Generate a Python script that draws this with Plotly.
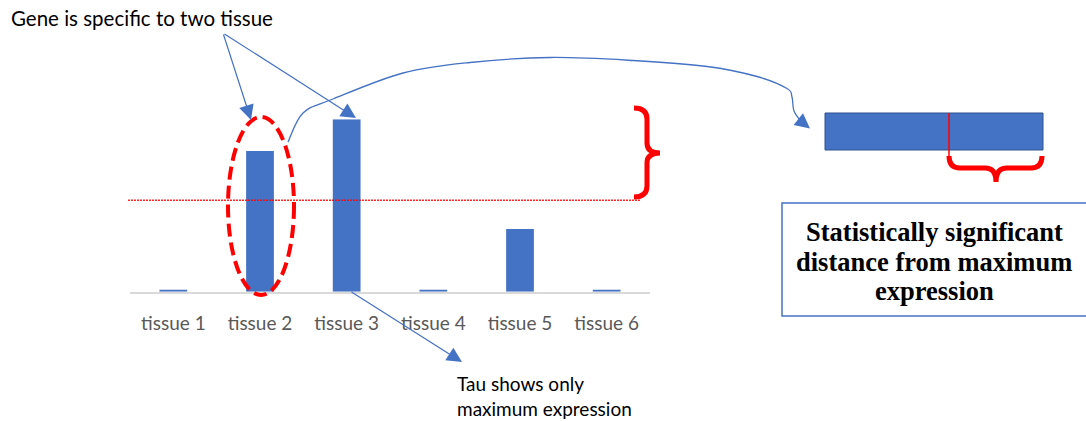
import plotly.graph_objects as go

# Expression per tissue (relative units)
tissues = ["tissue 1", "tissue 2", "tissue 3", "tissue 4", "tissue 5", "tissue 6"]
expression = [1.2, 81.6, 100, 1.2, 36.4, 1.2]
threshold = 53.0

W, H = 1086, 421
BLUE = "#4472C4"
RED = "#FF0000"


def px(x):
    return x / W


def py(y):
    return 1 - y / H


def smooth_path(pts):
    """Catmull-Rom spline through pixel points, returned as an SVG path in paper units."""
    d = f"M {px(pts[0][0]):.5f},{py(pts[0][1]):.5f}"
    n = len(pts)
    for i in range(n - 1):
        p0 = pts[i - 1] if i > 0 else pts[i]
        p1 = pts[i]
        p2 = pts[i + 1]
        p3 = pts[i + 2] if i + 2 < n else pts[i + 1]
        c1 = (p1[0] + (p2[0] - p0[0]) / 6, p1[1] + (p2[1] - p0[1]) / 6)
        c2 = (p2[0] - (p3[0] - p1[0]) / 6, p2[1] - (p3[1] - p1[1]) / 6)
        d += (f" C {px(c1[0]):.5f},{py(c1[1]):.5f} {px(c2[0]):.5f},{py(c2[1]):.5f}"
              f" {px(p2[0]):.5f},{py(p2[1]):.5f}")
    return d


def pixel_path(cmds):
    """Build an SVG path (paper units) from a list of (command, [x, y, ...]) in pixels."""
    out = []
    for cmd, coords in cmds:
        pairs = []
        for j in range(0, len(coords), 2):
            pairs.append(f"{px(coords[j]):.5f},{py(coords[j + 1]):.5f}")
        out.append(cmd + " " + " ".join(pairs))
    return " ".join(out)


fig = go.Figure()
fig.add_trace(go.Bar(
    x=tissues, y=expression, width=0.32,
    marker=dict(color=BLUE, line=dict(width=0)),
    hoverinfo="skip",
))

shapes = []

# threshold line across the chart
shapes.append(dict(type="line", xref="paper", yref="y",
                   x0=px(128), x1=px(640), y0=threshold, y1=threshold,
                   line=dict(color="rgba(255,0,0,0.85)", width=1.5, dash="2px,1px")))

# dashed ellipse around tissue 2
shapes.append(dict(type="circle", xref="paper", yref="paper",
                   x0=px(228), x1=px(294), y0=py(295), y1=py(117),
                   line=dict(color=RED, width=4, dash="13px,6px")))

# brace between threshold and maximum
shapes.append(dict(type="path", xref="paper", yref="paper",
                   path=pixel_path([
                       ("M", [634, 108]),
                       ("Q", [647, 108, 647, 119]),
                       ("L", [647, 143]),
                       ("Q", [647, 153, 660, 153]),
                       ("Q", [647, 153, 647, 163]),
                       ("L", [647, 186]),
                       ("Q", [647, 197, 634, 197]),
                   ]),
                   line=dict(color=RED, width=5)))

# curved connector from the ellipse to the summary bar
curve_pts = [(288, 142), (303, 113), (333, 99), (403, 73), (470, 62.5), (550, 57.5),
             (633, 60.5), (707, 66.5), (757, 76.5), (787, 88.5), (792, 97),
             (794, 111), (802, 122.5), (806, 126)]
shapes.append(dict(type="path", xref="paper", yref="paper",
                   path=smooth_path(curve_pts),
                   line=dict(color=BLUE, width=1.3)))

# summary bar on the right
shapes.append(dict(type="rect", xref="paper", yref="paper",
                   x0=px(825), x1=px(1043), y0=py(150), y1=py(113),
                   fillcolor=BLUE, line=dict(color="#2F528F", width=1)))
shapes.append(dict(type="line", xref="paper", yref="paper",
                   x0=px(949), x1=px(949), y0=py(113), y1=py(157),
                   line=dict(color=RED, width=1.5)))

# brace under the summary bar
shapes.append(dict(type="path", xref="paper", yref="paper",
                   path=pixel_path([
                       ("M", [949, 156]),
                       ("Q", [949, 168, 960, 168]),
                       ("L", [985, 168]),
                       ("Q", [996, 168, 996, 182]),
                       ("Q", [996, 168, 1007, 168]),
                       ("L", [1031, 168]),
                       ("Q", [1042, 168, 1042, 156]),
                   ]),
                   line=dict(color=RED, width=5)))

# text box
shapes.append(dict(type="rect", xref="paper", yref="paper",
                   x0=px(782), x1=px(1092), y0=py(316), y1=py(203),
                   fillcolor="rgba(0,0,0,0)", line=dict(color=BLUE, width=1.5)))

annotations = []


def arrow(tail, tip):
    annotations.append(dict(
        xref="paper", yref="paper", x=px(tip[0]), y=py(tip[1]),
        ax=tail[0] - tip[0], ay=tail[1] - tip[1], axref="pixel", ayref="pixel",
        text="", showarrow=True, arrowhead=2, arrowsize=2.5, arrowwidth=1.2,
        arrowcolor=BLUE, standoff=0, startstandoff=0,
    ))


arrow((223, 33), (251, 120))
arrow((223, 33), (356, 118))
arrow((350, 291), (462, 362))
arrow((800, 120.5), (810, 128.5))

LABEL_FONT = "Lato"


def label(text, x, y, size, color="#000000", family=LABEL_FONT, anchor="left"):
    annotations.append(dict(
        xref="paper", yref="paper", x=px(x), y=py(y), text=text,
        showarrow=False, xanchor=anchor, yanchor="middle",
        font=dict(family=family, size=size, color=color),
    ))


label("Gene is specific to two tissue", 9, 18, 20.5)
label("Tau shows only", 455, 383, 19)
label("maximum expression", 455, 408, 19)

box_lines = ["Statistically significant", "distance from maximum", "expression"]
for text, y in zip(box_lines, [231.5, 261.5, 290.5]):
    label(f"<b>{text}</b>", 934, y, 26.5, family="Liberation Serif", anchor="center")

fig.update_layout(
    width=W, height=H,
    margin=dict(l=0, r=0, t=0, b=0),
    paper_bgcolor="white", plot_bgcolor="white",
    showlegend=False,
    shapes=shapes,
    annotations=annotations,
    xaxis=dict(
        domain=[px(130), px(650)], range=[-0.5, 5.5],
        showline=True, linecolor="#D9D9D9", linewidth=1.5,
        showgrid=False, zeroline=False, ticks="",
        tickfont=dict(family=LABEL_FONT, size=19, color="#595959"),
        ticklabelstandoff=14,
        fixedrange=True,
    ),
    yaxis=dict(
        domain=[py(291.7), py(119.3)], range=[0, 100],
        visible=False, fixedrange=True,
    ),
)

fig.write_html("out.html")
